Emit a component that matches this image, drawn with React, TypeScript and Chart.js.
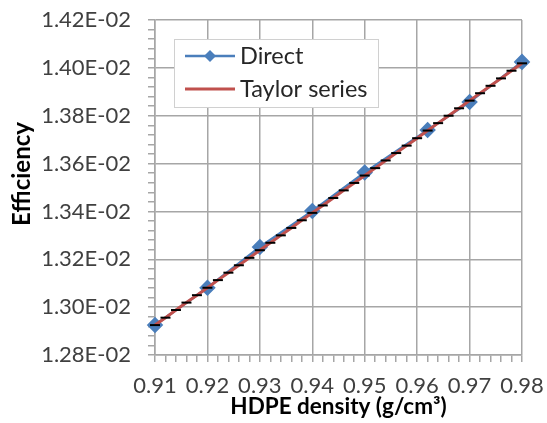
import { useEffect, useRef } from "react";
import { Chart, registerables } from "chart.js";

Chart.register(...registerables);

// ---- data ----
const xDirect = [0.91, 0.92, 0.93, 0.94, 0.95, 0.962, 0.97, 0.98];
const yDirect = [1.2925e-2, 1.3081e-2, 1.3251e-2, 1.3402e-2, 1.3563e-2, 1.374e-2, 1.3857e-2, 1.4025e-2];

const xTaylor = [
  0.91, 0.912, 0.914, 0.916, 0.918, 0.92, 0.922, 0.924, 0.926, 0.928,
  0.93, 0.932, 0.934, 0.936, 0.938, 0.94, 0.942, 0.944, 0.946, 0.948,
  0.95, 0.952, 0.954, 0.956, 0.958, 0.96, 0.962, 0.964, 0.966, 0.968,
  0.97, 0.972, 0.974, 0.976, 0.978, 0.98,
];
const yTaylor = [
  1.2925e-2, 1.2956e-2, 1.2988e-2, 1.3019e-2, 1.305e-2, 1.3081e-2, 1.3113e-2, 1.3144e-2, 1.3175e-2, 1.3206e-2,
  1.3238e-2, 1.3269e-2, 1.33e-2, 1.3331e-2, 1.3363e-2, 1.3394e-2, 1.3425e-2, 1.3456e-2, 1.3488e-2, 1.3519e-2,
  1.355e-2, 1.3581e-2, 1.3613e-2, 1.3644e-2, 1.3675e-2, 1.3706e-2, 1.3738e-2, 1.3769e-2, 1.38e-2, 1.3831e-2,
  1.3863e-2, 1.3894e-2, 1.3925e-2, 1.3956e-2, 1.3988e-2, 1.4019e-2,
];

const xMin = 0.91;
const xMax = 0.98;
const xMinorStep = 0.002;
const xMajorStep = 0.01;
const yMin = 0.0128;
const yMax = 0.0142;
const yMinorStep = 0.00004;
const yMajorStep = 0.0002;

const seriesNames = ["Direct", "Taylor series"];
const xTitle = "HDPE density (g/cm³)";
const yTitle = "Efficiency";

const BLUE = "#4a7ebb";
const RED = "#c0504d";
const GRID = "#a6a6a6";
const FONT = "Lato";

const isMajor = (v: number, step: number) => Math.abs(v / step - Math.round(v / step)) < 1e-6;

const zeroPad = (s: any) => {
  s.paddingTop = 0;
  s.paddingBottom = 0;
  s.paddingLeft = 0;
  s.paddingRight = 0;
};

const overlay = {
  id: "overlay",
  afterDraw(chart: any) {
    const ctx = chart.ctx as CanvasRenderingContext2D;
    const area = chart.chartArea;
    ctx.save();
    // axis titles
    ctx.fillStyle = "#000";
    ctx.textAlign = "center";
    ctx.textBaseline = "middle";
    ctx.font = `bold 22.5px ${FONT}`;
    ctx.fillText(xTitle, (area.left + area.right) / 2, 407);
    ctx.save();
    ctx.translate(22, 174);
    ctx.rotate(-Math.PI / 2);
    ctx.font = `bold 24px ${FONT}`;
    ctx.fillText(yTitle, 0, 0);
    ctx.restore();

    // legend
    const lx = 174, ly = 39, lw = 204, lh = 68;
    ctx.fillStyle = "#fff";
    ctx.fillRect(lx, ly, lw, lh);
    ctx.strokeStyle = "#d0d0d0";
    ctx.lineWidth = 1;
    ctx.strokeRect(lx + 0.5, ly + 0.5, lw, lh);
    const rows = [56, 89];
    const colors = [BLUE, RED];
    rows.forEach((ry, i) => {
      ctx.strokeStyle = colors[i];
      ctx.lineWidth = i === 0 ? 2.5 : 3;
      ctx.beginPath();
      ctx.moveTo(185, ry);
      ctx.lineTo(235, ry);
      ctx.stroke();
      if (i === 0) {
        ctx.fillStyle = BLUE;
        ctx.beginPath();
        ctx.moveTo(210, ry - 6);
        ctx.lineTo(216, ry);
        ctx.lineTo(210, ry + 6);
        ctx.lineTo(204, ry);
        ctx.closePath();
        ctx.fill();
      }
      ctx.fillStyle = "#262626";
      ctx.font = `23.5px ${FONT}`;
      ctx.textAlign = "left";
      ctx.textBaseline = "middle";
      ctx.fillText(seriesNames[i], 240, ry);
    });
    ctx.restore();
  },
};

export default function App() {
  const ref = useRef<HTMLCanvasElement>(null);
  useEffect(() => {
    const chart = new Chart(ref.current!, {
      type: "scatter",
      data: {
        datasets: [
          {
            label: seriesNames[1],
            data: xTaylor.map((x, i) => ({ x, y: yTaylor[i] })),
            showLine: true,
            borderColor: RED,
            borderWidth: 3,
            pointStyle: "line",
            pointRadius: 5,
            pointBorderColor: "#000",
            pointBackgroundColor: "#000",
            pointBorderWidth: 2,
            clip: false,
            order: 1,
          },
          {
            label: seriesNames[0],
            data: xDirect.map((x, i) => ({ x, y: yDirect[i] })),
            showLine: true,
            borderColor: BLUE,
            borderWidth: 2.5,
            pointStyle: "rectRot",
            pointRadius: 6.5,
            pointBorderColor: BLUE,
            pointBackgroundColor: BLUE,
            clip: false,
            order: 2,
          },
        ],
      },
      options: {
        responsive: false,
        animation: false,
        layout: { autoPadding: false, padding: { top: 20, right: 25, left: 0, bottom: 0 } },
        plugins: { legend: { display: false }, tooltip: { enabled: false } },
        scales: {
          x: {
            type: "linear",
            min: xMin,
            max: xMax,
            afterFit: (s: any) => { s.height = 68; zeroPad(s); },
            ticks: {
              stepSize: xMinorStep,
              autoSkip: false,
              maxRotation: 0,
              padding: 11,
              color: "#404040",
              font: { family: FONT, size: 22 },
              callback: (v: any) => (isMajor(Number(v), xMajorStep) ? Number(v).toFixed(2) : ""),
            },
            grid: {
              color: (c: any) => (c.tick && isMajor(c.tick.value, xMajorStep) ? GRID : "rgba(0,0,0,0)"),
              tickColor: GRID,
              lineWidth: 1.5,
              tickLength: 7,
            },
            border: { display: true, color: GRID, width: 1.5 },
          },
          y: {
            type: "linear",
            min: yMin,
            max: yMax,
            afterFit: (s: any) => { s.width = 155; zeroPad(s); },
            ticks: {
              stepSize: yMinorStep,
              autoSkip: false,
              padding: 17,
              color: "#404040",
              font: { family: FONT, size: 22 },
              callback: (v: any) => (isMajor(Number(v), yMajorStep) ? (Number(v) * 100).toFixed(2) + "E-02" : ""),
            },
            grid: {
              color: (c: any) => (c.tick && isMajor(c.tick.value, yMajorStep) ? GRID : "rgba(0,0,0,0)"),
              tickColor: GRID,
              lineWidth: 1.5,
              tickLength: 7,
            },
            border: { display: true, color: GRID, width: 1.5 },
          },
        },
      },
      plugins: [overlay],
    });
    return () => chart.destroy();
  }, []);
  return (
    <div style={{ position: "absolute", left: 0, top: 0, width: 547, height: 423, background: "#fff" }}>
      <canvas ref={ref} width={547} height={423} />
    </div>
  );
}
